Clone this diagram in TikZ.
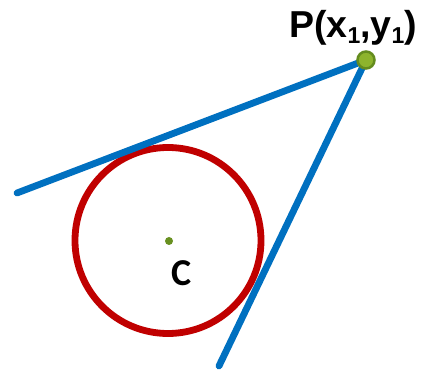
\documentclass[tikz,border=0pt]{standalone}
\usepackage{fontspec}
\setmainfont{Liberation Sans}
\newfontfamily\cfont{Carlito}
\definecolor{cred}{RGB}{192,0,0}
\definecolor{cblue}{RGB}{0,112,192}
\definecolor{cgreen}{RGB}{141,180,45}
\definecolor{cgreendark}{RGB}{100,140,30}
\begin{document}
\begin{tikzpicture}[x=1pt,y=-1pt,
  tline/.style={cblue,line width=6.8pt,line cap=round},
  circ/.style={cred,line width=6.8pt},
  dot/.style={circle,fill=cgreen,draw=cgreendark,inner sep=0pt},
  lbl/.style={inner sep=0pt,anchor=base west,font=\bfseries}]
\useasboundingbox (0,0) rectangle (424,371);
\node[circle,draw,circ,minimum size=186pt,inner sep=0pt] (circ) at (168,240.5) {};
\node[dot,minimum size=8pt,fill=cgreendark!90!cgreen,draw=none] (c) at (169,241) {};
\node[lbl,font=\cfont\bfseries\fontsize{38}{38}\selectfont] (clbl) at (171,286) {C};
\coordinate (a) at (17,193);
\coordinate (b) at (219,366);
\coordinate (pc) at (366,60);
\draw[tline] (a) -- (pc);
\draw[tline] (b) -- (pc);
\node[dot,minimum size=17pt,line width=2.5pt] (p) at (pc) {};
\node[lbl,font=\bfseries\fontsize{37.5}{37.5}\selectfont] (plbl) at (289,38) {P(x\raisebox{-6pt}{\fontsize{23}{23}\selectfont 1},y\raisebox{-6pt}{\fontsize{23}{23}\selectfont 1})};
\end{tikzpicture}
\end{document}
